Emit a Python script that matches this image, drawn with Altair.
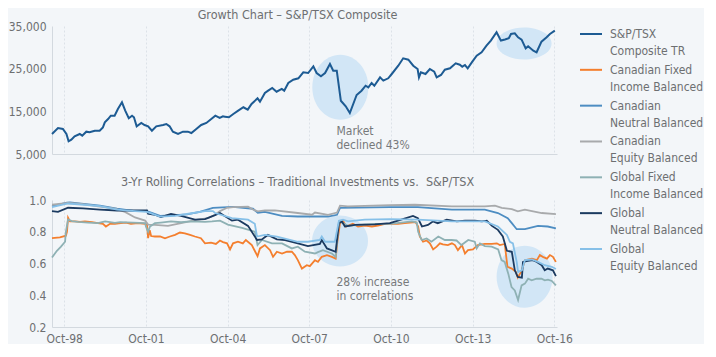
import altair as alt
import pandas as pd

FONT = "DejaVu Sans Condensed, Liberation Sans Narrow, sans-serif"
TXT = "#6d6f71"
BG = "#f3f6f9"

# ---------------- data ----------------
tick_years = [1998.75, 2001.75, 2004.75, 2007.75, 2010.75, 2013.75, 2016.75]
tick_labels = ["Oct-98", "Oct-01", "Oct-04", "Oct-07", "Oct-10", "Oct-13", "Oct-16"]

tsx_year = [1998.30, 1998.52, 1998.70, 1998.83, 1998.91, 1999.01, 1999.13, 1999.32, 1999.41, 1999.56,
            1999.68, 1999.87, 2000.05, 2000.17, 2000.24, 2000.36, 2000.46, 2000.60, 2000.72, 2000.87,
            2000.99, 2001.12, 2001.24, 2001.31, 2001.41, 2001.58, 2001.70, 2001.83, 2001.97, 2002.13,
            2002.38, 2002.50, 2002.62, 2002.74, 2002.93, 2003.11, 2003.29, 2003.42, 2003.60, 2003.78,
            2003.97, 2004.15, 2004.30, 2004.46, 2004.58, 2004.65, 2004.80, 2004.96, 2005.14, 2005.33,
            2005.49, 2005.63, 2005.85, 2005.94, 2006.12, 2006.24, 2006.39, 2006.55, 2006.74, 2006.83,
            2006.98, 2007.16, 2007.35, 2007.53, 2007.71, 2007.90, 2008.02, 2008.18, 2008.33, 2008.51,
            2008.63, 2008.76, 2008.91, 2009.09, 2009.24, 2009.49, 2009.67, 2009.82, 2009.92, 2010.04,
            2010.14, 2010.35, 2010.47, 2010.65, 2010.78, 2011.02, 2011.20, 2011.39, 2011.57, 2011.73,
            2011.78, 2011.85, 2012.02, 2012.18, 2012.34, 2012.43, 2012.59, 2012.73, 2012.92, 2013.13,
            2013.28, 2013.37, 2013.47, 2013.57, 2013.74, 2013.90, 2014.08, 2014.26, 2014.42, 2014.63,
            2014.79, 2014.94, 2015.08, 2015.16, 2015.30, 2015.42, 2015.55, 2015.70, 2015.79, 2015.98,
            2016.10, 2016.28, 2016.47, 2016.59, 2016.77]
tsx_value = [9700, 11100, 10860, 9690, 7970, 8350, 9150, 9690, 9300, 10230,
             10080, 10460, 10460, 11250, 12430, 13200, 13980, 13980, 15550, 17120,
             15170, 13370, 13980, 13600, 11490, 12270, 11800, 11490, 10460, 11490,
             11800, 12030, 11490, 10230, 9690, 10230, 10230, 9920, 10860, 11800,
             12270, 13200, 13980, 13440, 13830, 13750, 13600, 14380, 15170, 15950,
             15390, 16720, 18050, 17260, 19300, 19840, 20470, 19600, 20240, 19840,
             21640, 22420, 22740, 24150, 23980, 25550, 23980, 23210, 23980, 26100,
             24530, 24530, 17490, 16180, 14610, 18830, 19840, 21010, 20630, 21640,
             21010, 22970, 22190, 22740, 23750, 25700, 27430, 27100, 25700, 24920,
             22970, 24150, 23750, 24920, 24290, 22970, 23520, 24760, 25080, 26260,
             25930, 25460, 25860, 25080, 26640, 28050, 28840, 30410, 31580, 33530,
             31580, 31820, 32120, 33130, 33290, 32350, 31820, 29770, 30250, 29220,
             28840, 31330, 32350, 33130, 33900]

cfi_year = [1998.30, 1998.59, 1998.81, 1998.85, 1998.89, 1998.96, 1999.14, 1999.33, 1999.51, 1999.77,
            1999.99, 2000.17, 2000.28, 2000.43, 2000.61, 2000.83, 2001.02, 2001.20, 2001.46, 2001.72,
            2001.79, 2001.83, 2001.89, 2001.94, 2002.08, 2002.27, 2002.45, 2002.63, 2002.82, 2003.00,
            2003.18, 2003.37, 2003.55, 2003.77, 2003.92, 2004.14, 2004.32, 2004.47, 2004.58, 2004.73,
            2004.84, 2004.95, 2005.13, 2005.31, 2005.42, 2005.64, 2005.85, 2005.94, 2006.12, 2006.31,
            2006.42, 2006.56, 2006.75, 2006.93, 2007.11, 2007.22, 2007.33, 2007.48, 2007.66, 2007.77,
            2007.96, 2008.07, 2008.21, 2008.40, 2008.58, 2008.72, 2008.79, 2008.88, 2008.99, 2009.10,
            2009.35, 2009.54, 2009.79, 2010.05, 2010.27, 2010.53, 2011.01, 2011.26, 2011.66, 2011.75,
            2011.81, 2011.93, 2012.06, 2012.18, 2012.30, 2012.43, 2012.55, 2012.66, 2012.84, 2012.99,
            2013.10, 2013.21, 2013.36, 2013.47, 2013.58, 2013.76, 2013.94, 2014.20, 2014.46, 2014.64,
            2014.75, 2014.93, 2015.03, 2015.19, 2015.34, 2015.41, 2015.56, 2015.67, 2015.93, 2016.11,
            2016.22, 2016.33, 2016.48, 2016.59, 2016.70, 2016.81]
cfi_val = [0.760, 0.765, 0.775, 0.800, 0.888, 0.865, 0.865, 0.862, 0.865, 0.860,
           0.854, 0.850, 0.833, 0.850, 0.850, 0.854, 0.858, 0.850, 0.854, 0.850,
           0.845, 0.760, 0.810, 0.773, 0.770, 0.770, 0.759, 0.770, 0.780, 0.795,
           0.790, 0.780, 0.770, 0.759, 0.727, 0.731, 0.723, 0.745, 0.735, 0.727,
           0.689, 0.727, 0.737, 0.727, 0.748, 0.716, 0.646, 0.695, 0.716, 0.684,
           0.642, 0.674, 0.663, 0.674, 0.674, 0.653, 0.621, 0.568, 0.589, 0.583,
           0.621, 0.610, 0.642, 0.653, 0.642, 0.631, 0.748, 0.854, 0.870, 0.833,
           0.850, 0.833, 0.838, 0.833, 0.838, 0.850, 0.850, 0.855, 0.860, 0.833,
           0.770, 0.737, 0.745, 0.727, 0.689, 0.706, 0.727, 0.720, 0.716, 0.727,
           0.716, 0.684, 0.716, 0.663, 0.684, 0.689, 0.716, 0.723, 0.723, 0.727,
           0.716, 0.723, 0.579, 0.568, 0.547, 0.511, 0.557, 0.621, 0.631, 0.621,
           0.653, 0.642, 0.631, 0.653, 0.642, 0.610]

cnb_year = [1998.30, 1998.85, 1998.96, 2000.06, 2000.69, 2001.35, 2001.79, 2002.27, 2002.82, 2003.26,
            2003.73, 2004.21, 2004.95, 2005.68, 2005.86, 2006.12, 2006.75, 2007.33, 2008.44, 2008.77,
            2008.88, 2010.71, 2011.74, 2012.99, 2014.20, 2014.68, 2015.04, 2015.19, 2015.37, 2015.67,
            2016.15, 2016.51, 2016.81]
cnb_val = [0.962, 0.983, 0.985, 0.965, 0.945, 0.930, 0.930, 0.900, 0.905, 0.910,
           0.925, 0.951, 0.957, 0.945, 0.920, 0.925, 0.900, 0.896, 0.896, 0.907,
           0.950, 0.955, 0.955, 0.939, 0.939, 0.918, 0.886, 0.854, 0.816, 0.816,
           0.837, 0.833, 0.822]

ceb_year = [1998.30, 1998.89, 1999.36, 1999.99, 2000.61, 2000.98, 2001.35, 2001.72, 2001.83, 2002.08,
            2002.56, 2003.04, 2003.66, 2004.03, 2004.29, 2004.47, 2004.73, 2004.95, 2005.50, 2005.68,
            2005.86, 2006.12, 2006.49, 2007.33, 2007.85, 2007.96, 2008.44, 2008.77, 2008.88, 2009.17,
            2010.71, 2011.63, 2012.99, 2014.20, 2014.57, 2014.82, 2015.19, 2015.41, 2015.67, 2015.93,
            2016.29, 2016.81]
ceb_val = [0.970, 0.981, 0.975, 0.960, 0.945, 0.925, 0.890, 0.870, 0.845, 0.843,
           0.837, 0.854, 0.876, 0.886, 0.907, 0.930, 0.951, 0.955, 0.958, 0.940,
           0.928, 0.934, 0.934, 0.918, 0.907, 0.921, 0.907, 0.921, 0.964, 0.960,
           0.968, 0.970, 0.960, 0.960, 0.964, 0.950, 0.943, 0.928, 0.939, 0.930,
           0.918, 0.911]

gfi_year = [1998.30, 1998.48, 1998.63, 1998.78, 1998.81, 1998.89, 1999.03, 1999.26, 1999.62, 1999.99,
            2000.25, 2000.61, 2000.80, 2001.72, 2001.75, 2001.83, 2001.90, 2002.08, 2002.30, 2002.67,
            2003.04, 2003.40, 2003.92, 2004.18, 2004.47, 2004.76, 2005.28, 2005.75, 2005.85, 2006.01,
            2006.38, 2006.75, 2007.11, 2007.33, 2007.59, 2007.96, 2008.07, 2008.25, 2008.58, 2008.72,
            2008.84, 2008.99, 2009.17, 2009.54, 2010.16, 2010.71, 2011.52, 2011.70, 2011.75, 2011.88,
            2012.06, 2012.24, 2012.49, 2012.73, 2012.98, 2013.16, 2013.34, 2013.59, 2013.83, 2013.90,
            2014.02, 2014.20, 2014.45, 2014.69, 2014.81, 2014.93, 2015.06, 2015.18, 2015.30, 2015.42,
            2015.55, 2015.67, 2015.79, 2015.92, 2016.10, 2016.28, 2016.40, 2016.52, 2016.66, 2016.81]
gfi_val = [0.638, 0.680, 0.706, 0.737, 0.800, 0.877, 0.867, 0.862, 0.858, 0.854,
           0.865, 0.856, 0.860, 0.855, 0.833, 0.800, 0.833, 0.854, 0.858, 0.865,
           0.860, 0.865, 0.862, 0.865, 0.870, 0.845, 0.825, 0.800, 0.716, 0.748,
           0.727, 0.727, 0.695, 0.706, 0.674, 0.663, 0.672, 0.684, 0.663, 0.642,
           0.865, 0.854, 0.837, 0.843, 0.850, 0.850, 0.865, 0.858, 0.800, 0.748,
           0.758, 0.737, 0.770, 0.748, 0.748, 0.745, 0.716, 0.748, 0.737, 0.695,
           0.727, 0.710, 0.706, 0.689, 0.621, 0.610, 0.536, 0.452, 0.430, 0.370,
           0.462, 0.473, 0.504, 0.494, 0.504, 0.504, 0.494, 0.498, 0.490, 0.462]

gnb_year = [1998.30, 1998.52, 1998.89, 1999.44, 2000.06, 2000.69, 2001.79, 2001.83, 2002.08, 2002.30,
            2002.67, 2003.04, 2003.55, 2003.92, 2004.29, 2004.47, 2004.91, 2005.13, 2005.50, 2005.83,
            2006.01, 2006.23, 2006.56, 2006.86, 2007.33, 2007.70, 2008.14, 2008.21, 2008.40, 2008.72,
            2008.84, 2008.95, 2009.06, 2009.43, 2010.16, 2010.71, 2011.01, 2011.56, 2011.74, 2011.89,
            2012.11, 2012.29, 2012.47, 2012.80, 2013.17, 2013.47, 2013.83, 2014.09, 2014.27, 2014.46,
            2014.68, 2014.86, 2015.01, 2015.19, 2015.30, 2015.41, 2015.56, 2015.60, 2015.78, 2015.96,
            2016.11, 2016.29, 2016.40, 2016.51, 2016.70, 2016.81]
gnb_val = [0.930, 0.925, 0.951, 0.947, 0.940, 0.934, 0.934, 0.913, 0.907, 0.892,
           0.913, 0.900, 0.876, 0.880, 0.905, 0.918, 0.870, 0.876, 0.837, 0.748,
           0.752, 0.780, 0.752, 0.748, 0.727, 0.710, 0.723, 0.748, 0.695, 0.674,
           0.854, 0.865, 0.833, 0.843, 0.847, 0.854, 0.870, 0.900, 0.886, 0.833,
           0.843, 0.865, 0.854, 0.876, 0.865, 0.870, 0.870, 0.865, 0.870, 0.837,
           0.812, 0.770, 0.680, 0.674, 0.557, 0.515, 0.511, 0.610, 0.617, 0.621,
           0.610, 0.589, 0.557, 0.568, 0.557, 0.520]

geb_year = [1998.30, 1998.89, 2000.06, 2000.69, 2001.35, 2001.79, 2002.27, 2002.82, 2003.37, 2003.92,
            2004.21, 2004.29, 2004.91, 2005.50, 2005.75, 2005.83, 2006.12, 2006.56, 2007.33, 2007.70,
            2008.14, 2008.21, 2008.33, 2008.69, 2008.84, 2008.99, 2009.17, 2009.79, 2010.71, 2011.74,
            2012.99, 2014.20, 2014.68, 2015.01, 2015.12, 2015.23, 2015.37, 2015.42, 2015.56, 2015.67,
            2015.93, 2016.15, 2016.40, 2016.66, 2016.81]
geb_val = [0.955, 0.978, 0.962, 0.940, 0.930, 0.925, 0.895, 0.900, 0.915, 0.930,
           0.930, 0.918, 0.886, 0.876, 0.850, 0.770, 0.780, 0.770, 0.737, 0.737,
           0.748, 0.770, 0.737, 0.737, 0.870, 0.876, 0.865, 0.876, 0.880, 0.876,
           0.865, 0.865, 0.833, 0.780, 0.737, 0.727, 0.610, 0.547, 0.557, 0.621,
           0.625, 0.610, 0.589, 0.579, 0.565]

series_names = ["S&P/TSX Composite TR", "Canadian Fixed Income Balanced", "Canadian Neutral Balanced",
                "Canadian Equity Balanced", "Global Fixed Income Balanced", "Global Neutral Balanced",
                "Global Equity Balanced"]
legend_line1 = ["S&P/TSX", "Canadian Fixed", "Canadian", "Canadian", "Global Fixed", "Global", "Global"]
legend_line2 = ["Composite TR", "Income Balanced", "Neutral Balanced", "Equity Balanced",
                "Income Balanced", "Neutral Balanced", "Equity Balanced"]
series_colors = ["#1d5b93", "#f47f2e", "#4d8dc2", "#a8aaac", "#8eb1b4", "#1b3a60", "#86c0e8"]

# annotation ellipses: centre (year, value), pixel width / height
ell_top = [(2008.89, 20630, 56, 65), (2015.64, 30900, 55, 32)]
ell_bot = [(2008.88, 0.742, 56, 51), (2015.66, 0.517, 56, 62)]
ann_top_year = [2008.75, 2008.75]
ann_top_val = [10460, 7110]
ann_top_text = ["Market", "declined 43%"]
ann_bot_year = [2008.75, 2008.75]
ann_bot_val = [0.486, 0.394]
ann_bot_text = ["28% increase", "in correlations"]

# ---------------- build ----------------
XDOM = [1998.30, 2016.85]
W = 505
H_TOP = 128
H_BOT = 127
ELL_COLOR = "#d2e6f6"
AX_LINE = "#d3d9df"
FS = 12

tsx_df = pd.DataFrame({"year": tsx_year, "value": tsx_value})
corr_parts = [
    (series_names[1], cfi_year, cfi_val),
    (series_names[2], cnb_year, cnb_val),
    (series_names[3], ceb_year, ceb_val),
    (series_names[4], gfi_year, gfi_val),
    (series_names[5], gnb_year, gnb_val),
    (series_names[6], geb_year, geb_val),
]
rows = []
for name, ys, vs in corr_parts:
    for y, v in zip(ys, vs):
        rows.append({"series": name, "year": y, "value": v})
corr_df = pd.DataFrame(rows)

label_expr = "[" + ",".join("'%s'" % t for t in tick_labels) + "][round((datum.value-%s)/3)]" % tick_years[0]


def ellipse_path(w, h):
    # ellipse from four cubic bezier segments, normalised to [-1, 1]
    big = max(w, h)
    rx = w / big
    ry = h / big
    k = 0.5523
    return ("M %.4f 0 C %.4f %.4f %.4f %.4f 0 %.4f C %.4f %.4f %.4f %.4f %.4f 0 "
            "C %.4f %.4f %.4f %.4f 0 %.4f C %.4f %.4f %.4f %.4f %.4f 0 Z" % (
                -rx, -rx, -k * ry, -k * rx, -ry, -ry,
                k * rx, -ry, rx, -k * ry, rx,
                rx, k * ry, k * rx, ry, ry,
                -k * rx, ry, -rx, k * ry, -rx)), big * big


def x_enc(labels):
    return alt.X("year:Q", scale=alt.Scale(domain=XDOM, nice=False, zero=False),
                 axis=alt.Axis(values=tick_years, labels=labels, labelExpr=label_expr, ticks=False,
                               grid=True, gridColor="#dce2e8", gridDash=[2, 2], domainColor=AX_LINE,
                               labelPadding=6, title=None, labelFlush=False, labelOverlap=False))


def y_enc(domain, values, fmt):
    return alt.Y("value:Q", scale=alt.Scale(domain=domain, nice=False, zero=False),
                 axis=alt.Axis(values=values, format=fmt, ticks=False, grid=False, domainColor=AX_LINE,
                               minExtent=44, maxExtent=44, labelPadding=6, title=None,
                               labelOverlap=False))


X_TOP = x_enc(False)
Y_TOP = y_enc([5000, 35000], [5000, 15000, 25000, 35000], ",.0f")
X_BOT = x_enc(True)
Y_BOT = y_enc([0.2, 1.0], [0.2, 0.4, 0.6, 0.8, 1.0], ".1f")


def ellipses(spec, xe, ye):
    layers = []
    for cx, cy, w, h in spec:
        path, size = ellipse_path(w, h)
        layers.append(
            alt.Chart(pd.DataFrame({"year": [cx], "value": [cy]})).mark_point(
                shape=path, size=size, filled=True, color=ELL_COLOR, opacity=1, strokeWidth=0
            ).encode(x=xe, y=ye)
        )
    return layers


# legend (drawn to the right of the top panel, positioned through its own index scale)
leg_df = pd.DataFrame({"idx": list(range(len(series_names))), "name": series_names,
                       "l1": legend_line1, "l2": legend_line2})
ITEM_STEP = 35.83
leg_top = -8 / ITEM_STEP
leg_y = alt.Y("idx:Q", scale=alt.Scale(domain=[leg_top, leg_top + H_TOP / ITEM_STEP], reverse=True,
                                       nice=False, zero=False), axis=None)
leg_rule = alt.Chart(leg_df).mark_rule(strokeWidth=2).encode(
    x=alt.value(W + 23), x2=alt.value(W + 45), y=leg_y,
    color=alt.Color("name:N", scale=alt.Scale(domain=series_names, range=series_colors), legend=None),
)
leg_t1 = alt.Chart(leg_df).mark_text(align="left", baseline="middle", fontSize=FS, color=TXT, font=FONT).encode(
    x=alt.value(W + 53), y=leg_y, text="l1:N")
leg_t2 = alt.Chart(leg_df).mark_text(align="left", baseline="middle", fontSize=FS, color=TXT, font=FONT, dy=17).encode(
    x=alt.value(W + 53), y=leg_y, text="l2:N")
legend = alt.layer(leg_rule, leg_t1, leg_t2)

# top panel
top_line = alt.Chart(tsx_df).mark_line(color=series_colors[0], strokeWidth=2).encode(x=X_TOP, y=Y_TOP)
top_text = alt.Chart(pd.DataFrame({"year": ann_top_year, "value": ann_top_val, "t": ann_top_text})).mark_text(
    align="left", baseline="middle", fontSize=FS, color="#77797b", font=FONT
).encode(x=X_TOP, y=Y_TOP, text="t:N")
top_main = alt.layer(*ellipses(ell_top, X_TOP, Y_TOP), top_line, top_text)
top = alt.layer(top_main, legend).resolve_scale(y="independent", color="independent").properties(
    width=W, height=H_TOP,
    title=alt.TitleParams("Growth Chart \u2013 S&P/TSX Composite", dx=-7, offset=-1, frame="group"),
)

# bottom panel
bot_lines = alt.Chart(corr_df).mark_line(strokeWidth=1.8).encode(
    x=X_BOT, y=Y_BOT,
    color=alt.Color("series:N", scale=alt.Scale(domain=series_names[1:], range=series_colors[1:]), legend=None),
    order=alt.Order("year:Q"),
)
bot_text = alt.Chart(pd.DataFrame({"year": ann_bot_year, "value": ann_bot_val, "t": ann_bot_text})).mark_text(
    align="left", baseline="middle", fontSize=FS, color="#77797b", font=FONT
).encode(x=X_BOT, y=Y_BOT, text="t:N")
bottom = alt.layer(*ellipses(ell_bot, X_BOT, Y_BOT), bot_lines, bot_text).properties(
    width=W, height=H_BOT,
    title=alt.TitleParams("3-Yr Rolling Correlations \u2013 Traditional Investments vs.\u00a0 S&P/TSX",
                          dx=-7, offset=6, frame="group"),
)

chart = alt.vconcat(top, bottom, spacing=46, bounds="flush").resolve_scale(color="independent").properties(
    padding=0, background=BG
).configure_view(stroke=None).configure_axis(
    labelFont=FONT, labelFontSize=FS, labelColor=TXT
).configure_title(
    font=FONT, fontSize=12.5, color=TXT, fontWeight="normal", anchor="middle"
)

chart.save("out.html", embed_options={"renderer": "svg", "actions": False})
